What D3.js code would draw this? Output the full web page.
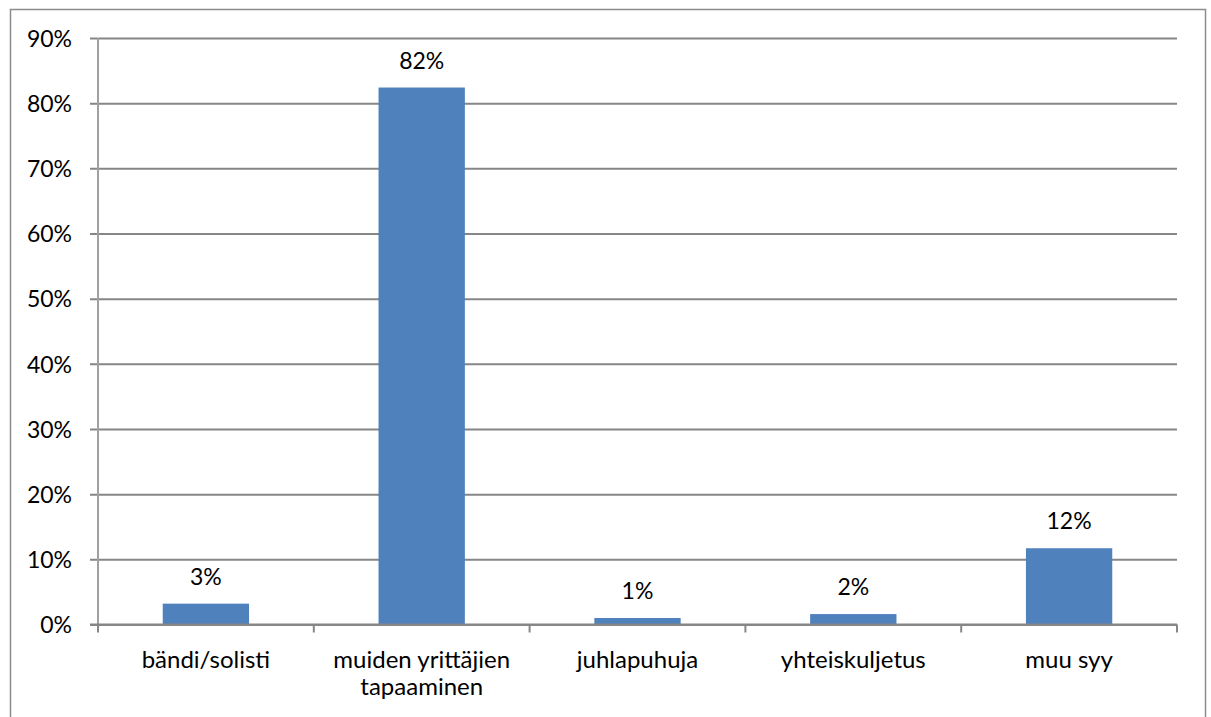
<!DOCTYPE html>
<html>
<head>
<meta charset="utf-8">
<script src="https://cdn.jsdelivr.net/npm/d3@7/dist/d3.min.js"></script>
<style>
  body { margin: 0; background: #fff; }
  text { font-family: Lato, "Open Sans", sans-serif; fill: #000; }
</style>
</head>
<body>
<div id="chart-area"></div>
<script>
// data
var categories = ["bändi/solisti", "muiden yrittäjien tapaaminen", "juhlapuhuja", "yhteiskuljetus", "muu syy"];
var categoryLines = [["bändi/solisti"], ["muiden yrittäjien", "tapaaminen"], ["juhlapuhuja"], ["yhteiskuljetus"], ["muu syy"]];
var values = [3.2, 82.4, 1.0, 1.6, 11.7];
var valueLabels = ["3%", "82%", "1%", "2%", "12%"];
var yTicks = [0, 10, 20, 30, 40, 50, 60, 70, 80, 90];

var W = 1211, H = 717;
var margin = { left: 98, right: 34, top: 38, bottom: 92.5 };
var width = W - margin.left - margin.right,
  height = H - margin.top - margin.bottom;

var svg = d3.select("#chart-area")
  .append("svg")
  .attr("width", W)
  .attr("height", H);

// outer chart border
svg.append("rect")
  .attr("x", 10.5).attr("y", 9.5)
  .attr("width", 1195).attr("height", 740)
  .attr("fill", "none")
  .attr("stroke", "#8c8c8c")
  .attr("stroke-width", 1.5);

var g = svg.append("g")
  .attr("transform", "translate(" + margin.left + "," + margin.top + ")");

var x = d3.scaleBand()
  .domain(categories)
  .range([0, width])
  .paddingInner(0.6)
  .paddingOuter(0.3);

var y = d3.scaleLinear()
  .domain([0, 90])
  .range([height, 0]);

// gridlines + y ticks
var yAxis = g.append("g")
  .call(d3.axisLeft(y).tickValues(yTicks).tickSize(-width - 8).tickPadding(18)
    .tickFormat(function (d) { return d + "%"; }))
  .attr("transform", "translate(-8,0)");
yAxis.select(".domain").remove();
yAxis.selectAll(".tick line")
  .attr("x1", 0)
  .attr("x2", width + 8)
  .attr("stroke", "#868686")
  .attr("stroke-width", 2);
yAxis.selectAll(".tick text")
  .attr("x", -18)
  .attr("dy", "0.36em")
  .style("font-size", "23px")
  .style("font-family", "Lato, sans-serif");

// y axis line
g.append("line")
  .attr("x1", 0).attr("x2", 0)
  .attr("y1", 0).attr("y2", height + 1)
  .attr("stroke", "#a0a0a0")
  .attr("stroke-width", 2);

// category tick marks between bands
var xTickPos = d3.range(categories.length + 1).map(function (i) { return i * width / categories.length; });
g.selectAll(".xtick")
  .data(xTickPos)
  .enter().append("line")
  .attr("class", "xtick")
  .attr("x1", function (d) { return d; })
  .attr("x2", function (d) { return d; })
  .attr("y1", height)
  .attr("y2", height + 8)
  .attr("stroke", "#868686")
  .attr("stroke-width", 2);

// bars
g.selectAll(".bar")
  .data(values)
  .enter().append("rect")
  .attr("class", "bar")
  .attr("x", function (d, i) { return x(categories[i]); })
  .attr("y", function (d) { return y(d); })
  .attr("width", x.bandwidth())
  .attr("height", function (d) { return height - y(d); })
  .attr("fill", "#4f81bd");

// x axis line over bars
g.append("line")
  .attr("x1", -8).attr("x2", width)
  .attr("y1", height).attr("y2", height)
  .attr("stroke", "#868686")
  .attr("stroke-width", 2);

// data labels
g.selectAll(".vlabel")
  .data(values)
  .enter().append("text")
  .attr("class", "vlabel")
  .attr("x", function (d, i) { return x(categories[i]) + x.bandwidth() / 2; })
  .attr("y", function (d) { return y(d) - 19; })
  .attr("text-anchor", "middle")
  .style("font-size", "23px")
  .text(function (d, i) { return valueLabels[i]; });

// category labels
var cat = g.selectAll(".clabel")
  .data(categories)
  .enter().append("text")
  .attr("class", "clabel")
  .attr("x", function (d) { return x(d) + x.bandwidth() / 2; })
  .attr("y", height + 43.5)
  .attr("text-anchor", "middle")
  .style("font-size", "24px");
cat.selectAll("tspan")
  .data(function (d, i) { return categoryLines[i]; })
  .enter().append("tspan")
  .attr("x", function () { return d3.select(this.parentNode).attr("x"); })
  .attr("dy", function (d, i) { return i === 0 ? 0 : 27; })
  .text(function (d) { return d; });
</script>
</body>
</html>
